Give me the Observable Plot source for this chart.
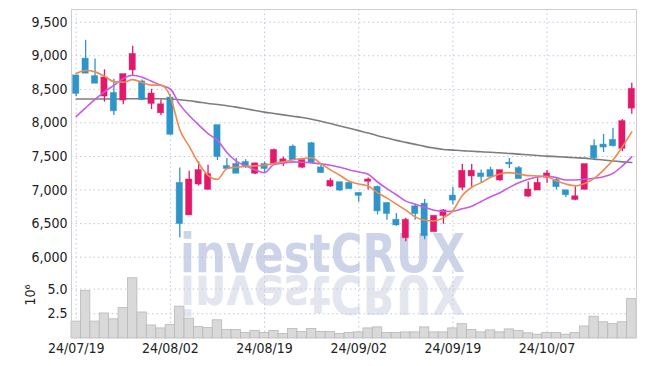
<!DOCTYPE html>
<html>
<head>
<meta charset="utf-8">
<script src="https://cdn.jsdelivr.net/npm/d3@7"></script>
<script src="https://cdn.jsdelivr.net/npm/@observablehq/plot@0.6"></script>
<style>
  body { margin: 0; background: #fff; }
  #wrap { position: relative; width: 645px; height: 366px; overflow: hidden; }
  #wrap > svg, #wrap > .pl { position: absolute; left: 0; }
</style>
</head>
<body>
<div id="wrap"></div>
<script>
const dates = ["24/07/19","24/07/22","24/07/23","24/07/24","24/07/25","24/07/26","24/07/29","24/07/30","24/07/31","24/08/01",
"24/08/02","24/08/05","24/08/06","24/08/07","24/08/08","24/08/09","24/08/12","24/08/13","24/08/14","24/08/16",
"24/08/19","24/08/20","24/08/21","24/08/22","24/08/23","24/08/26","24/08/27","24/08/28","24/08/29","24/08/30",
"24/09/02","24/09/03","24/09/04","24/09/05","24/09/06","24/09/09","24/09/10","24/09/11","24/09/12","24/09/13",
"24/09/19","24/09/20","24/09/23","24/09/24","24/09/25","24/09/26","24/09/27","24/09/30","24/10/02","24/10/04",
"24/10/07","24/10/08","24/10/10","24/10/11","24/10/14","24/10/15","24/10/16","24/10/17","24/10/18","24/10/21"];
const open  = [8700,8950,8690,8400,8440,8340,8790,8610,8290,8150, 8370,7100,6630,7090,7010,7960,7350,7380,7410,7250,
               7380,7390,7420,7640,7340,7690,7330,7060,7110,7100, 6950,7130,7040,6800,6550,6290,6750,6790,6380,6620,
               6910,7040,7210,7240,7290,7150,7400,7320,6910,7000, 7190,7140,6990,6860,7010,7650,7670,7740,7620,8220];
const high  = [8710,9230,8950,8790,8650,8720,9140,8640,8500,8340, 8420,7330,7280,7420,7370,7960,7470,7470,7450,7400,
               7420,7610,7490,7670,7440,7710,7370,7170,7110,7110, 6960,7180,7060,6810,6650,6580,6790,6860,6610,6710,
               7040,7380,7380,7300,7340,7290,7470,7350,7120,7180, 7290,7170,6990,7050,7380,7750,7830,7920,8050,8590];
const low   = [8390,8740,8590,8310,8110,8270,8690,8330,8200,8110, 7820,6290,6620,7060,7000,7440,7300,7250,7320,7230,
               7260,7380,7350,7440,7320,7400,7250,7040,6980,7010, 6820,7000,6630,6550,6460,6230,6550,6260,6380,6490,
               6780,6990,7040,7110,7200,7130,7320,7170,6890,7000, 7100,7000,6890,6840,7010,7440,7560,7640,7570,8130];
const close = [8440,8740,8590,8670,8180,8720,9020,8350,8430,8270, 7830,6500,7150,7290,7230,7500,7320,7250,7360,7390,
               7320,7590,7450,7450,7440,7410,7260,7130,7000,7020, 6920,7150,6690,6650,6480,6550,6650,6320,6610,6690,
               6850,7280,7280,7200,7200,7290,7390,7170,7000,7100, 7240,7050,6930,6900,7380,7480,7640,7660,8020,8500];
const ma5   = [8735,8780,8760,8695,8615,8605,8645,8600,8562,8562, 8390,7900,7650,7400,7220,7160,7320,7340,7350,7360,
               7370,7395,7420,7450,7470,7480,7390,7300,7220,7130, 7090,7060,6960,6880,6790,6700,6600,6550,6540,6590,
               6690,6920,7040,7110,7190,7240,7260,7240,7215,7210, 7198,7134,7090,7064,7099,7173,7297,7446,7644,7866];
const ma20  = [8095,8225,8350,8462,8560,8660,8710,8680,8620,8560, 8505,8272,8110,7970,7840,7740,7560,7430,7360,7300,
               7258,7380,7400,7420,7415,7405,7390,7370,7340,7300, 7270,7235,7120,7020,6930,6835,6790,6745,6700,6685,
               6685,6720,6760,6830,6900,6960,7040,7110,7160,7195, 7205,7185,7150,7150,7160,7175,7198,7248,7360,7495];
const ma60  = [8355,8355,8355,8355,8355,8358,8360,8362,8362,8360, 8355,8345,8330,8310,8290,8275,8255,8235,8210,8185,
               8160,8140,8120,8100,8080,8055,8025,7990,7955,7920, 7885,7850,7810,7775,7740,7710,7680,7650,7625,7605,
               7595,7585,7578,7570,7562,7555,7545,7535,7525,7515, 7505,7498,7490,7482,7475,7460,7448,7432,7420,7410];
const volume = [1710000,4800000,1710000,2530000,1940000,3090000,6090000,2630000,1320000,1020000,
                1350000,3220000,2000000,1150000,1050000,1840000,860000,860000,560000,760000,
                560000,760000,460000,950000,660000,950000,660000,660000,460000,560000,
                620000,1020000,1120000,560000,560000,620000,620000,1120000,620000,620000,
                1020000,1450000,860000,620000,820000,620000,920000,760000,530000,390000,
                560000,560000,390000,560000,1220000,2200000,1640000,1450000,1640000,3980000];
const priceTicks = [6000,6500,7000,7500,8000,8500,9000,9500];
const volTicks = [2500000,5000000];
const dateTickIdx = [0,10,20,30,40,50];

const n = dates.length;
const data = dates.map((d, i) => ({i, date: d, open: open[i], high: high[i], low: low[i], close: close[i],
  ma5: ma5[i], ma20: ma20[i], ma60: ma60[i], volume: volume[i]}));

const UP = "#e2196b", DOWN = "#2f95c8";
const col = d => d.close >= d.open ? UP : DOWN;
const FONT = "'Liberation Sans Narrow', 'DejaVu Sans Condensed', 'Roboto Condensed', sans-serif";
const GRID = "#c3c7dc";
const FRAME = "#cfcfcf";

const wrap = document.getElementById("wrap");

// watermark (behind the chart)
const NS = "http://www.w3.org/2000/svg";
const wm = document.createElementNS(NS, "svg");
wm.setAttribute("width", 645); wm.setAttribute("height", 366);
wm.style.top = "0px";
wm.innerHTML = `
  <text x="180" y="272" font-family="'DejaVu Sans', sans-serif" font-weight="bold" font-size="54"
    textLength="285" lengthAdjust="spacingAndGlyphs" fill="#cdd3e8">investCRUX</text>
  <g transform="translate(0,548) scale(1,-1)">
    <text x="180" y="272" font-family="'DejaVu Sans', sans-serif" font-weight="bold" font-size="54"
      textLength="285" lengthAdjust="spacingAndGlyphs" fill="#e3e6ef">investCRUX</text>
  </g>`;
wrap.appendChild(wm);

const price = Plot.plot({
  width: 645, height: 272,
  marginTop: 9, marginBottom: 0, marginLeft: 71, marginRight: 9,
  style: {fontFamily: FONT, fontSize: "14px", color: "#222", background: "transparent"},
  x: {domain: [0, n], axis: null},
  y: {domain: [5772, 9689]},
  marks: [
    Plot.ruleY(priceTicks, {stroke: GRID, strokeDasharray: "1.5,3", strokeWidth: 1}),
    Plot.ruleX(dateTickIdx, {x: d => d + 0.5, stroke: GRID, strokeDasharray: "1.5,3", strokeWidth: 1}),
    Plot.frame({stroke: FRAME, strokeWidth: 1}),
    Plot.axisY(priceTicks, {tickSize: 0, tickPadding: 4, tickFormat: d3.format(","), fontSize: 14, fill: "#222"}),
    Plot.line(data, {x: d => d.i + 0.5, y: "ma60", stroke: "#7d7d7d", strokeWidth: 1.6, curve: "monotone-x"}),
    Plot.ruleX(data, {x: d => d.i + 0.5, y1: "low", y2: "high", stroke: col, strokeWidth: 1.3}),
    Plot.rect(data, {x1: d => d.i + 0.165, x2: d => d.i + 0.835, y1: "open", y2: "close", fill: col,
      stroke: col, strokeOpacity: 0.5, strokeWidth: 0.8, insetTop: -0.5, insetBottom: -0.5}),
    Plot.line(data, {x: d => d.i + 0.5, y: "ma20", stroke: "#c85ae6", strokeWidth: 1.6, curve: "monotone-x"}),
    Plot.line(data, {x: d => d.i + 0.5, y: "ma5", stroke: "#ef8a4f", strokeWidth: 1.6, curve: "monotone-x"})
  ]
});
price.classList.add("pl");
price.style.top = "0px";
wrap.appendChild(price);

const vol = Plot.plot({
  width: 645, height: 94,
  marginTop: 0, marginBottom: 28, marginLeft: 71, marginRight: 9,
  style: {fontFamily: FONT, fontSize: "14px", color: "#222", background: "transparent"},
  x: {domain: [0, n]},
  y: {domain: [0, 6670000]},
  marks: [
    Plot.ruleY(volTicks, {stroke: GRID, strokeDasharray: "1.5,3", strokeWidth: 1}),
    Plot.ruleX(dateTickIdx, {x: d => d + 0.5, stroke: GRID, strokeDasharray: "1.5,3", strokeWidth: 1}),
    Plot.rect(data, {x1: "i", x2: d => d.i + 1, y1: 0, y2: "volume", fill: "#d9d9d9", stroke: "#b8b8b8", strokeWidth: 0.8}),
    Plot.ruleX([0, n], {stroke: FRAME, strokeWidth: 1}),
    Plot.axisY(volTicks, {tickSize: 0, tickPadding: 4, tickFormat: d => (d / 1e6).toFixed(1), fontSize: 14, fill: "#222", label: null}),
    Plot.axisX(dateTickIdx.map(d => d + 0.5), {tickSize: 0, tickPadding: 5, tickFormat: d => dates[Math.round(d - 0.5)], fontSize: 14, fill: "#222", label: null}),
    Plot.text(["10⁶"], {frameAnchor: "left", dx: -41, rotate: -90, fontSize: 14, fill: "#222"})
  ]
});
vol.classList.add("pl");
vol.style.top = "272px";
wrap.appendChild(vol);
</script>
</body>
</html>
